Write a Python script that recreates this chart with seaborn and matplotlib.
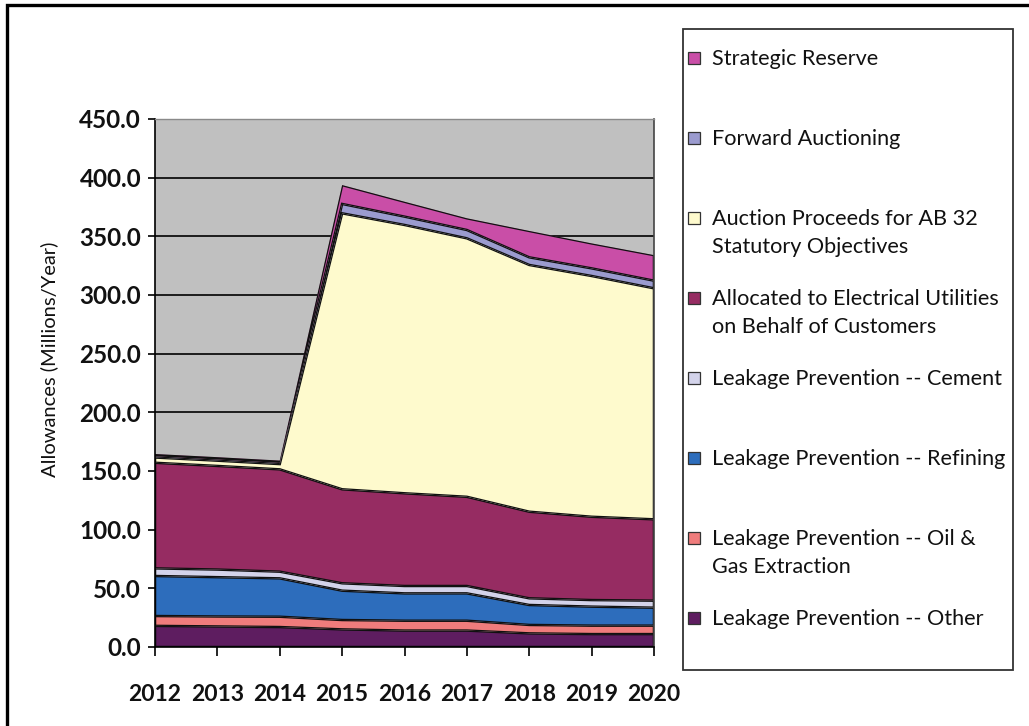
import matplotlib
matplotlib.use("Agg")
import matplotlib.pyplot as plt
from matplotlib.patches import Rectangle
import numpy as np
import pandas as pd
import seaborn as sns
import seaborn.objects as so

# ---------------- data ----------------
years = [2012, 2013, 2014, 2015, 2016, 2017, 2018, 2019, 2020]
other = [18.0, 17.5, 17.0, 15.0, 14.0, 14.0, 11.6, 11.0, 11.0]
oil_gas = [8.4, 8.5, 8.8, 8.0, 8.4, 8.4, 7.2, 7.2, 7.2]
refining = [34.1, 33.5, 32.7, 25.0, 23.3, 23.3, 17.0, 16.2, 15.3]
cement = [6.5, 6.5, 5.7, 6.3, 6.3, 6.3, 5.7, 5.6, 6.0]
utilities = [90.0, 88.3, 87.2, 80.1, 79.0, 76.0, 73.8, 71.0, 69.3]
auction = [4.5, 4.5, 4.5, 235.2, 228.7, 220.3, 210.3, 205.2, 196.9]
forward = [1.0, 1.0, 1.0, 8.0, 7.1, 7.1, 6.5, 6.5, 6.5]
strategic = [2.0, 2.0, 2.0, 16.1, 12.7, 10.0, 22.5, 21.3, 21.8]

# bottom -> top
series_names = [
    "Leakage Prevention -- Other",
    "Leakage Prevention -- Oil &\nGas Extraction",
    "Leakage Prevention -- Refining",
    "Leakage Prevention -- Cement",
    "Allocated to Electrical Utilities\non Behalf of Customers",
    "Auction Proceeds for AB 32\nStatutory Objectives",
    "Forward Auctioning",
    "Strategic Reserve",
]
series_values = [other, oil_gas, refining, cement, utilities, auction, forward, strategic]
series_colors = ["#5E1D60", "#EF7C7C", "#2D6DBC", "#D3D3EA",
                 "#962C62", "#FEFACD", "#9B9BCF", "#C94EA7"]
y_ticks = [0, 50, 100, 150, 200, 250, 300, 350, 400, 450]

rows = []
for name, vals in zip(series_names, series_values):
    for yr, v in zip(years, vals):
        rows.append({"year": yr, "value": v, "series": name})
df = pd.DataFrame(rows)

# ---------------- style ----------------
sns.set_theme(style="white")
plt.rcParams["font.family"] = ["Lato", "DejaVu Sans"]

W, H = 1029, 726
fig = plt.figure(figsize=(W / 100, H / 100), dpi=100)
fig.patch.set_facecolor("white")

L, R, T, B = 155, 654, 119, 647
ax = fig.add_axes([L / W, 1 - B / H, (R - L) / W, (B - T) / H])
ax.set_facecolor("#C0C0C0")

palette = dict(zip(series_names, series_colors))
(
    so.Plot(df, x="year", y="value", color="series")
    .add(so.Area(alpha=1, edgecolor="#111111", edgewidth=0.9), so.Stack(), legend=False)
    .scale(color=so.Nominal(palette, order=series_names))
    .on(ax)
    .plot()
)

ax.set_facecolor("#C0C0C0")
ax.set_xlim(years[0], years[-1])
ax.set_ylim(0, 450)
ax.set_xticks(years)
ax.set_xticklabels([str(y) for y in years])
ax.set_yticks(y_ticks)
ax.set_yticklabels([f"{v:.1f}" for v in y_ticks])
ax.set_xlabel("")
ax.set_ylabel("Allowances (Millions/Year)", fontsize=14.5, color="#111111")
ax.yaxis.set_label_coords(-0.195, 0.544)

ax.set_axisbelow(True)
ax.yaxis.grid(True, color="black", linewidth=1.2)
ax.xaxis.grid(False)
for side in ["left", "bottom"]:
    ax.spines[side].set_visible(True)
    ax.spines[side].set_color("black")
    ax.spines[side].set_linewidth(1.2)
ax.spines["top"].set_visible(True)
ax.spines["top"].set_color("#8A8A8A")
ax.spines["top"].set_linewidth(1.0)
ax.spines["right"].set_visible(True)
ax.spines["right"].set_color("#444444")
ax.spines["right"].set_linewidth(1.2)

ax.tick_params(axis="y", direction="out", length=5, width=1.2, color="black",
               pad=5, labelsize=17.5, left=True)
ax.tick_params(axis="x", direction="out", length=6.5, width=1.2, color="black",
               pad=20, labelsize=16.5, bottom=True)
for lab in ax.get_xticklabels() + ax.get_yticklabels():
    lab.set_fontweight("bold")
    lab.set_color("#111111")

# ---------------- outer frame ----------------
def fx(px):
    return px / W

def fy(py):
    return 1 - py / H

fig.patches.append(Rectangle((fx(7), fy(740)), fx(1100), 735 / H, transform=fig.transFigure,
                             fill=False, edgecolor="black", linewidth=2.4, zorder=0))

# ---------------- legend box ----------------
fig.patches.append(Rectangle((fx(683), fy(670)), fx(1013 - 683), (670 - 29) / H,
                             transform=fig.transFigure, fill=False,
                             edgecolor="#333333", linewidth=1.3, zorder=1))
legend_order = list(zip(series_names, series_colors))[::-1]
for i, (name, col) in enumerate(legend_order):
    yc = 58 + 80 * i
    fig.patches.append(Rectangle((fx(688), fy(yc + 6)), fx(12), 12 / H,
                                 transform=fig.transFigure, facecolor=col,
                                 edgecolor="#333333", linewidth=0.9, zorder=2))
    for j, line in enumerate(name.split("\n")):
        fig.text(fx(712), fy(yc + 7 + 28 * j), line, fontsize=15.6, color="#111111",
                 va="baseline", ha="left")

fig.savefig("out.png", dpi=100)
